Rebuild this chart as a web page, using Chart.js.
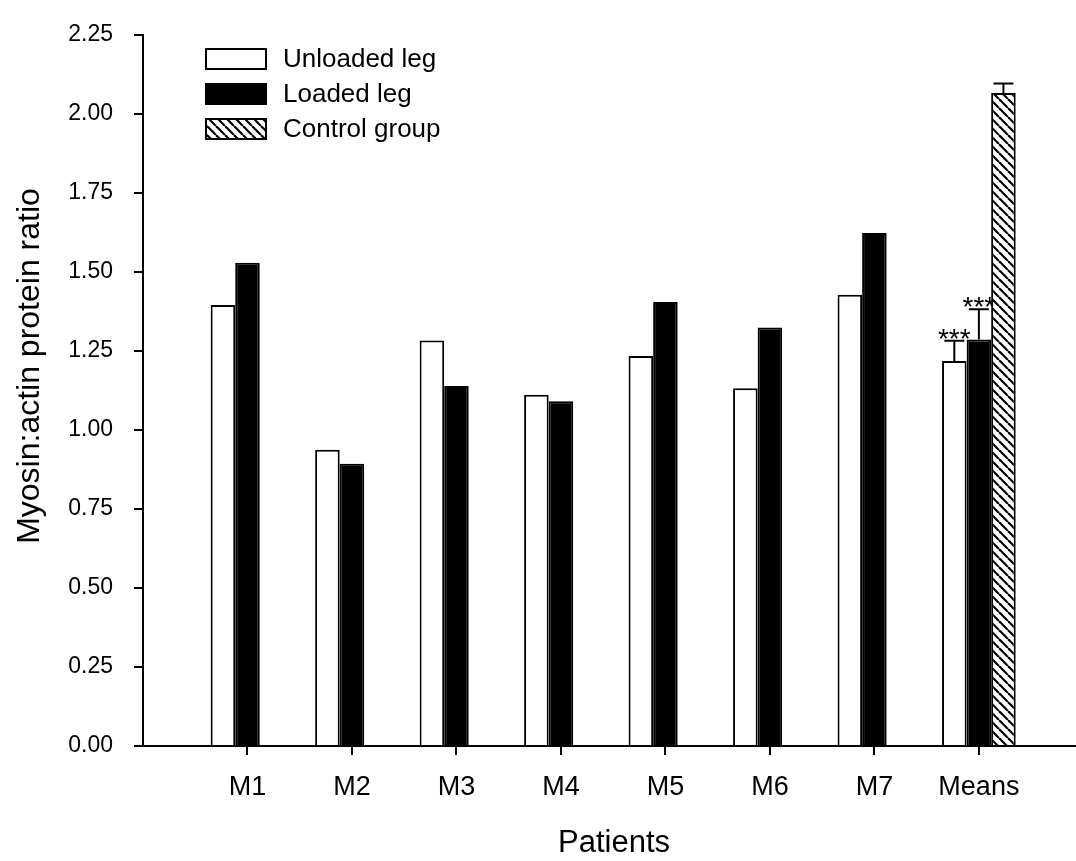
<!DOCTYPE html>
<html>
<head>
<meta charset="utf-8">
<title>Myosin:actin protein ratio</title>
<script src="https://cdn.jsdelivr.net/npm/chart.js@4.4.1/dist/chart.umd.min.js"></script>
<style>
  html, body { margin: 0; padding: 0; background: #fff; }
  #chart { display: block; }
</style>
</head>
<body>
<canvas id="chart" width="1076" height="861"></canvas>
<script>
const categories = ['M1', 'M2', 'M3', 'M4', 'M5', 'M6', 'M7', 'Means'];
const unloadedLeg = [1.395, 0.937, 1.283, 1.111, 1.234, 1.132, 1.428, 1.218];
const loadedLeg = [1.529, 0.893, 1.139, 1.091, 1.405, 1.324, 1.623, 1.286];
const controlGroup = [2.066];              // only shown with the means
const meanErrors = [0.064, 0.096, 0.030];  // unloaded, loaded, control (upper bar only)
const meanMarks = ['***', '***', ''];

const FONT = "'Liberation Sans', Arial, sans-serif";
const X_TITLE = 'Patients';
const Y_TITLE = 'Myosin:actin protein ratio';

// diagonal hatch for the control group
function makeHatch() {
    const size = 9;
    const c = document.createElement('canvas');
    c.width = size;
    c.height = size;
    const g = c.getContext('2d');
    g.fillStyle = '#fff';
    g.fillRect(0, 0, size, size);
    g.strokeStyle = '#000';
    g.lineWidth = 2.2;
    for (const k of [-size, 0, size]) {
        g.beginPath();
        g.moveTo(k, 0);
        g.lineTo(k + size, size);
        g.stroke();
    }
    return g.createPattern(c, 'repeat');
}
const hatch = makeHatch();

const meansX = categories.length;

// upper error bars and significance marks on the "Means" group
const meanErrorBars = {
    id: 'meanErrorBars',
    afterDatasetsDraw(chart) {
        const ctx = chart.ctx;
        const y = chart.scales.y;
        ctx.save();
        ctx.strokeStyle = '#000';
        ctx.lineWidth = 2;
        ctx.fillStyle = '#000';
        ctx.font = '28px ' + FONT;
        ctx.textAlign = 'center';
        ctx.textBaseline = 'alphabetic';
        chart.data.datasets.forEach((ds, i) => {
            const meta = chart.getDatasetMeta(i);
            const bar = meta.data[meta.data.length - 1];
            const point = ds.data[ds.data.length - 1];
            const top = y.getPixelForValue(point.y + meanErrors[i]);
            ctx.beginPath();
            ctx.moveTo(bar.x, bar.y);
            ctx.lineTo(bar.x, top);
            ctx.moveTo(bar.x - 10, top);
            ctx.lineTo(bar.x + 10, top);
            ctx.stroke();
            if (meanMarks[i]) {
                ctx.fillText(meanMarks[i], bar.x, top + 7);
            }
        });
        ctx.restore();
    }
};

// legend inside the plot (top left) and both axis titles
const boxLegend = {
    id: 'boxLegend',
    afterDraw(chart) {
        const ctx = chart.ctx;
        const boxX = 206, boxY = 49, boxW = 60, boxH = 20, step = 35, textX = 283;
        ctx.save();
        ctx.font = '26px ' + FONT;
        ctx.textBaseline = 'middle';
        ctx.textAlign = 'left';
        chart.data.datasets.forEach((ds, i) => {
            const top = boxY + i * step;
            ctx.fillStyle = ds.backgroundColor;
            ctx.fillRect(boxX, top, boxW, boxH);
            ctx.strokeStyle = '#000';
            ctx.lineWidth = 2;
            ctx.strokeRect(boxX, top, boxW, boxH);
            ctx.fillStyle = '#000';
            ctx.fillText(ds.label, textX, top + boxH / 2 + 1);
        });

        // x title: the original axis runs on past the picture, so it sits right of centre
        ctx.font = '31px ' + FONT;
        ctx.textAlign = 'center';
        ctx.fillText(X_TITLE, 614, 843);

        // y title sits a little above the middle of the axis
        ctx.translate(30, 366);
        ctx.rotate(-Math.PI / 2);
        ctx.font = '32px ' + FONT;
        ctx.fillText(Y_TITLE, 0, 0);
        ctx.restore();
    }
};

const ctx = document.getElementById('chart').getContext('2d');
new Chart(ctx, {
    type: 'bar',
    data: {
        datasets: [
            {
                label: 'Unloaded leg',
                data: unloadedLeg.map((v, i) => ({ x: i + 1, y: v })),
                backgroundColor: '#ffffff',
                borderColor: '#000000',
                borderWidth: 2
            },
            {
                label: 'Loaded leg',
                data: loadedLeg.map((v, i) => ({ x: i + 1, y: v })),
                backgroundColor: '#000000',
                borderColor: '#000000',
                borderWidth: 2
            },
            {
                label: 'Control group',
                data: controlGroup.map(v => ({ x: meansX, y: v })),
                backgroundColor: hatch,
                borderColor: '#000000',
                borderWidth: 2
            }
        ]
    },
    options: {
        responsive: false,
        animation: false,
        layout: {
            padding: { top: 25, right: 1, bottom: 0, left: 0 }
        },
        datasets: {
            bar: {
                barPercentage: 1,
                categoryPercentage: 0.705
            }
        },
        plugins: {
            legend: { display: false },
            tooltip: { enabled: false }
        },
        scales: {
            x: {
                type: 'linear',
                min: 0,
                max: 8.92,
                offset: false,
                afterBuildTicks(scale) {
                    scale.ticks = categories.map((c, i) => ({ value: i + 1 }));
                },
                afterFit(scale) {
                    scale.height = 115;
                },
                grid: {
                    offset: false,
                    drawOnChartArea: false,
                    tickLength: 9,
                    color: '#000',
                    lineWidth: 2
                },
                border: { display: true, color: '#000', width: 2 },
                ticks: {
                    autoSkip: false,
                    maxRotation: 0,
                    padding: 16,
                    color: '#000',
                    font: { family: FONT, size: 27 },
                    callback: (value) => categories[Math.round(value) - 1]
                },
                title: { display: false }
            },
            y: {
                min: 0,
                max: 2.25,
                afterFit(scale) {
                    scale.width = 143;
                },
                grid: {
                    drawOnChartArea: false,
                    tickLength: 9,
                    color: '#000',
                    lineWidth: 2
                },
                border: { display: true, color: '#000', width: 2 },
                ticks: {
                    stepSize: 0.25,
                    padding: 21,
                    color: '#000',
                    font: { family: FONT, size: 23 },
                    callback: (value) => value.toFixed(2)
                },
                title: { display: false }
            }
        }
    },
    plugins: [meanErrorBars, boxLegend]
});
</script>
</body>
</html>
